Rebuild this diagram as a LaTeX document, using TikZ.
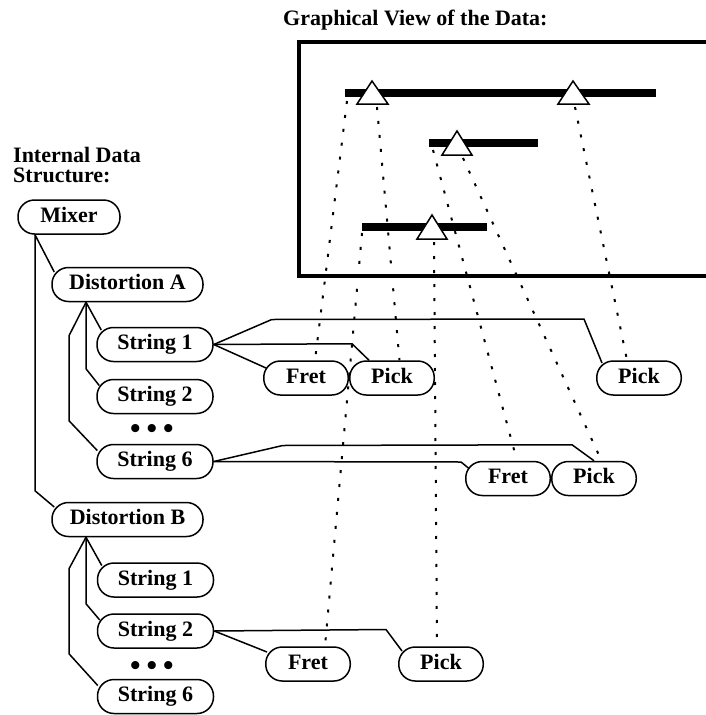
\documentclass[tikz,border=0pt]{standalone}
\usepackage{fontspec}
\setmainfont{Liberation Serif}
\usetikzlibrary{positioning, calc}

\begin{document}
\begin{tikzpicture}[
    x=1pt, y=-1pt,
    node distance=16.5pt and 0pt,
    box/.style={draw, line width=1.5pt, rounded corners=16.5pt, fill=white, minimum height=34pt, inner sep=0pt, text height=15pt, text depth=5pt, font=\fontsize{22}{24}\selectfont\bfseries},
    distbox/.style={box, minimum width=151pt},
    strbox/.style={box, minimum width=116pt},
    evbox/.style={box, minimum width=84.5pt},
    dots/.style={inner sep=0pt, font=\fontsize{30}{30}\selectfont\bfseries},
    title/.style={inner sep=0pt, font=\fontsize{22}{20}\selectfont\bfseries},
    line/.style={line width=1.5pt},
    link/.style={line width=2pt, dash pattern=on 3pt off 11pt},
    bar/.style={line width=7.5pt},
    tri/.style={draw, fill=white, line width=1.5pt, line join=miter},
    frame/.style={draw, line width=3.3pt}
]
    \clip (0,0) rectangle (706,715);

    \node[title, anchor=base west] (viewtitle) at (283,25) {Graphical View of the Data:};
    \node[title, anchor=north west, align=left] (treetitle) at (13,147) {Internal Data\\Structure:};

    \draw[frame] (299,42) rectangle (740,276);
    \draw[bar] (345,93) -- (656,93);
    \draw[bar] (429,143) -- (538,143);
    \draw[bar] (362,227) -- (487,227);
    \draw[tri] (372,81) -- (388,104) -- (357,104) -- cycle;
    \draw[tri] (573,81) -- (589,104) -- (558,104) -- cycle;
    \draw[tri] (457,131) -- (472,155) -- (442,155) -- cycle;
    \draw[tri] (432,215) -- (447,239) -- (417,239) -- cycle;

    \coordinate (start1) at (347,101);
    \coordinate (start2) at (433,150);
    \coordinate (start3) at (362,233);
    \coordinate (tri1) at (377,107);
    \coordinate (tri2) at (575,107);
    \coordinate (tri3) at (463,158);
    \coordinate (tri4) at (434,242);

    \node[box, minimum width=102pt] (mixer) at (69,217) {Mixer};
    \node[distbox] (distA) at (127.5,284.5) {Distortion A};
    \node[strbox] (strA1) at (155,344.5) {String 1};
    \node[strbox, below=of strA1] (strA2) {String 2};
    \node[dots] (dotsA) at (152,431) {•\hspace{6pt}•\hspace{6pt}•};
    \node[strbox] (strA6) at (155,461.5) {String 6};
    \node[distbox] (distB) at (127.5,519.5) {Distortion B};
    \node[strbox] (strB1) at (155.5,580) {String 1};
    \node[strbox, below=15.5pt of strB1] (strB2) {String 2};
    \node[dots] (dotsB) at (152,668) {•\hspace{6pt}•\hspace{6pt}•};
    \node[strbox] (strB6) at (155.5,696.5) {String 6};

    \node[evbox] (fretA1) at (306,378) {Fret};
    \node[evbox, right=of fretA1] (pickA1) {Pick};
    \node[evbox] (pickA2) at (639,378) {Pick};
    \node[evbox] (fretA6) at (508,478.5) {Fret};
    \node[evbox, right=of fretA6] (pickA6) {Pick};
    \node[evbox] (fretB2) at (308,664) {Fret};
    \node[evbox] (pickB2) at (441,664) {Pick};

    \coordinate (rootA) at ($(distA.south)+(-41.5,0)$);
    \coordinate (rootB) at ($(distB.south)+(-41.5,0)$);

    \draw[line] ($(mixer.south)+(-34,0)$) -- ($(distA.west)+(3,-12.5)$);
    \draw[line] ($(mixer.south)+(-34,0)$) -- ++(0,256) -- ($(distB.west)+(3,-12.5)$);

    \draw[line] (rootA) -- ($(strA1.west)+(5,-14.5)$);
    \draw[line] (rootA) -- ++(0,66.5) -- ($(strA2.west)+(3,-11)$);
    \draw[line] (rootA) -- ++(-17,33.5) -- ++(0,85) -- ($(strA6.west)+(1,-11)$);
    \draw[line] (rootB) -- ($(strB1.west)+(5,-14.5)$);
    \draw[line] (rootB) -- ++(0,66.5) -- ($(strB2.west)+(3,-11)$);
    \draw[line] (rootB) -- ++(-17,31.5) -- ++(0,85) -- ($(strB6.west)+(1,-11)$);

    \draw[line] (strA1.east) -- ($(fretA1.west)+(3,-10)$);
    \draw[line] (strA1.east) -- ($(pickA1.north)+(-40,-16.5)$) -- ($(pickA1.north)+(-23,0)$);
    \draw[line] (strA1.east) -- ++(58,-25) -- ($(pickA2.west)+(-12,-59)$) -- ($(pickA2.west)+(6,-15)$);
    \draw[line] (strA6.east) -- ++(69,-16) -- ($(pickA6.north)+(-22,-16)$) -- (pickA6.north);
    \draw[line] (strA6.east) -- ($(fretA6.west)+(-4,-16.5)$) -- ($(fretA6.west)+(4,-10)$);
    \draw[line] (strB2.east) -- ($(pickB2.west)+(-12,-34.5)$) -- ($(pickB2.west)+(4,-13)$);
    \draw[line] (strB2.east) -- ($(fretB2.west)+(2,-12)$);

    \draw[link] (start1) -- ($(fretA1.north)+(9,0)$);
    \draw[link] (tri1) -- ($(pickA1.north)+(7.5,0)$);
    \draw[link] (tri2) -- ($(pickA2.north)+(-12,0)$);
    \draw[link] (start2) -- ($(fretA6.north)+(9,0)$);
    \draw[link] (tri3) -- ($(pickA6.north)+(7.5,0)$);
    \draw[link] (start3) -- ($(fretB2.north)+(17,0)$);
    \draw[link] (tri4) -- ($(pickB2.north)+(-4,0)$);
\end{tikzpicture}
\end{document}
